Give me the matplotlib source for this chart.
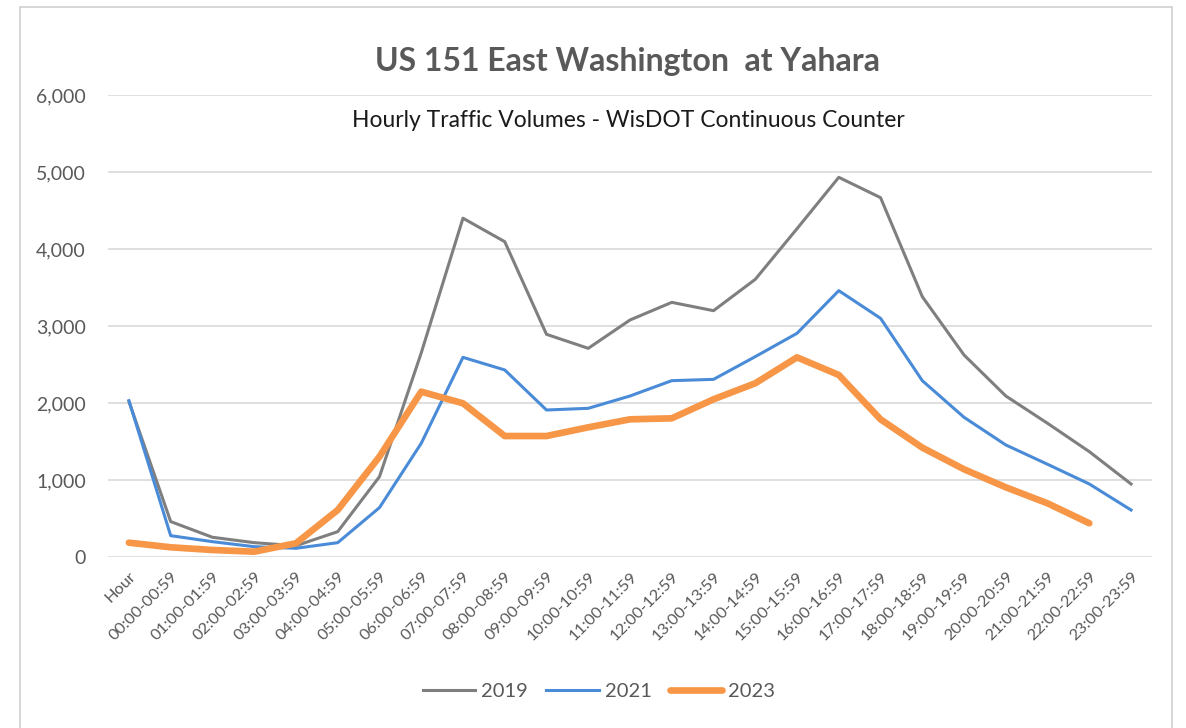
#!/usr/bin/env python
# -*- coding: utf-8 -*-

import numpy as np
import matplotlib
matplotlib.use("Agg")
import matplotlib.pyplot as plt
from matplotlib.ticker import FuncFormatter
from matplotlib.patches import Rectangle

hours = ["Hour"] + ["%02d:00-%02d:59" % (h, h) for h in range(24)]

vol_2019 = [2020, 460, 256, 186, 146, 329, 1043, 2650, 4400, 4095, 2892, 2710,
            3078, 3307, 3199, 3606, 4264, 4931, 4667, 3381, 2623, 2091, 1736,
            1368, 948]
vol_2021 = [2030, 277, 199, 134, 113, 186, 641, 1476, 2593, 2429, 1909, 1931,
            2091, 2290, 2307, 2602, 2905, 3459, 3100, 2290, 1814, 1455, 1204,
            948, 610]
vol_2023 = [186, 126, 91, 69, 178, 610, 1303, 2147, 1996, 1571, 1571, 1684,
            1788, 1801, 2048, 2256, 2593, 2364, 1788, 1420, 1139, 905, 697,
            438]

txt = "#595959"
fam = ["Lato", "DejaVu Sans"]

fig = plt.figure(figsize=(11.86, 7.28), dpi=100)
ax = fig.add_axes([0.0911, 0.2349, 0.8802, 0.6346])

x = np.arange(len(hours))
ax.plot(x, vol_2019, color="#7F7F7F", lw=2.2, label="2019", solid_joinstyle="round")
ax.plot(x, vol_2021, color="#4A8BD8", lw=2.2, label="2021", solid_joinstyle="round")
ax.plot(x[:len(vol_2023)], vol_2023, color="#F79646", lw=4.8, label="2023",
        solid_joinstyle="round", solid_capstyle="round")

ax.set_xlim(-0.5, len(hours) - 0.5)
ax.set_ylim(0, 6000)
ax.set_yticks(range(0, 6001, 1000))
ax.yaxis.set_major_formatter(FuncFormatter(lambda v, p: "{:,.0f}".format(v)))
ax.grid(axis="y", color="#D9D9D9", lw=1.2)
ax.set_axisbelow(True)
for s in ax.spines.values():
    s.set_visible(False)
ax.tick_params(length=0)
ax.tick_params(axis="y", labelsize=14, labelcolor=txt, pad=16)
ax.set_xticks(x)
ax.set_xticklabels(hours, rotation=45, ha="right", rotation_mode="anchor",
                   fontsize=11.8, color=txt, family=fam)
ax.tick_params(axis="x", pad=9)
for lab in ax.get_yticklabels():
    lab.set_family(fam)

fig.text(0.529, 0.915, "US 151 East Washington  at Yahara", ha="center", va="center",
         fontsize=23, fontweight="bold", color=txt, family=fam)
fig.text(0.53, 0.835, "Hourly Traffic Volumes - WisDOT Continuous Counter",
         ha="center", va="center", fontsize=16.5, color="#1A1A1A", family=fam)

leg = fig.legend(loc="center", bbox_to_anchor=(0.505, 0.05), ncol=3, frameon=False,
                 fontsize=14.5, handlelength=2.6, columnspacing=0.9, handletextpad=0.3)
for t in leg.get_texts():
    t.set_color(txt)
    t.set_family(fam)

fig.patches.append(Rectangle((20 / 1186, -0.05), 1152 / 1186, 1.04, transform=fig.transFigure,
                             fill=False, edgecolor="#D0D0D0", lw=1.2))

fig.savefig("out.png", dpi=100)
